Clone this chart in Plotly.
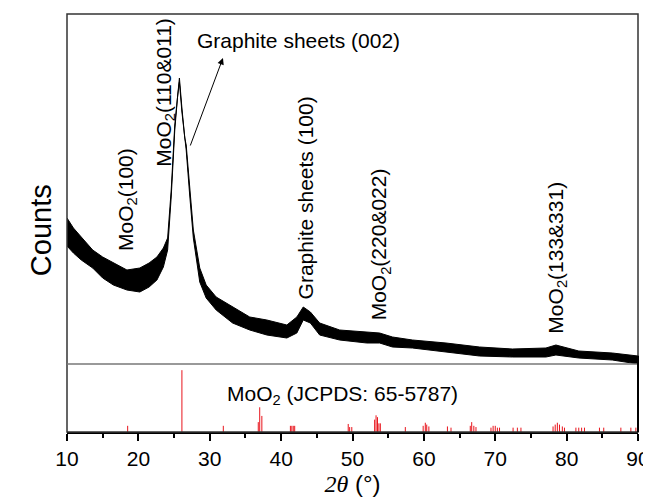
import plotly.graph_objects as go

# ---------------- data ----------------
# XRD pattern (noisy band): upper and lower envelope of the counts (a.u.)
two_theta = [10.0, 10.9, 12.0, 13.6, 15.0, 16.5, 18.4, 20.2, 21.5, 22.6, 23.5, 24.1,
             24.6, 25.1, 25.5, 25.75, 26.1, 26.5, 26.7, 27.2, 27.7, 28.6, 29.5, 30.9,
             33.2, 35.6, 38.0, 40.8, 42.2, 43.1, 44.1, 45.4, 48.2, 52.0, 53.8, 55.6,
             58.4, 63.1, 67.8, 72.4, 77.1, 78.5, 81.7, 86.4, 90.0]
counts_high = [146, 136, 127, 114, 107, 101, 94, 96, 101, 107, 116, 126,
               174, 239, 272, 286, 256, 226, 219, 174, 134, 96, 79, 67,
               57, 47, 44, 39, 47, 57, 52, 41, 34, 32, 31, 27,
               24, 21, 17, 15, 16, 19, 13, 11, 8]
counts_low = [118, 111, 104, 96, 86, 79, 74, 72, 77, 84, 97, 114,
              167, 234, 268, 282, 252, 222, 214, 168, 126, 82, 66, 54,
              41, 34, 29, 26, 31, 44, 41, 29, 24, 21, 21, 17,
              16, 12, 8, 7, 7, 9, 6, 4, 0]

# Reference pattern MoO2 (JCPDS 65-5787): positions and relative intensities
ref_two_theta = [18.5, 26.1, 31.9, 36.8, 37.0, 37.3, 41.3, 41.5, 41.7, 41.9,
                 49.4, 49.6, 49.9, 53.1, 53.3, 53.5, 53.7, 53.9, 57.4,
                 59.9, 60.2, 60.4, 60.7, 63.3, 63.8, 66.5, 66.7, 67.0, 67.3,
                 69.4, 69.7, 70.0, 70.3, 70.6, 72.5, 73.1, 73.6,
                 78.1, 78.4, 78.7, 79.0, 79.4, 79.7, 81.3, 81.7, 82.1, 82.5,
                 84.6, 85.2, 87.6, 89.0, 89.7]
ref_intensity = [10, 100, 10, 16, 40, 26, 10, 10, 10, 10,
                 13, 8, 8, 20, 27, 24, 14, 14, 8,
                 10, 15, 12, 9, 9, 7, 10, 16, 10, 8,
                 7, 10, 10, 7, 7, 7, 7, 7,
                 9, 12, 15, 12, 9, 7, 7, 7, 7, 7,
                 7, 7, 7, 7, 7]

x_ticks = [10, 20, 30, 40, 50, 60, 70, 80, 90]

peak_labels = ["MoO<sub>2</sub>(100)", "MoO<sub>2</sub>(110&011)", "Graphite sheets (100)",
               "MoO<sub>2</sub>(220&022)", "MoO<sub>2</sub>(133&331)"]
peak_label_x = [18.4, 23.7, 43.4, 53.9, 78.6]
peak_label_y = [165, 272, 166, 120, 106]

# ---------------- figure ----------------
FONT = "Liberation Sans, Arial, sans-serif"
split = 68 / 418

fig = go.Figure()

fig.add_trace(go.Scatter(x=two_theta, y=counts_low, mode="lines",
                         line=dict(color="black", width=1),
                         xaxis="x2", yaxis="y2", showlegend=False, hoverinfo="skip"))
fig.add_trace(go.Scatter(x=two_theta, y=counts_high, mode="lines", fill="tonexty",
                         fillcolor="black", line=dict(color="black", width=1),
                         xaxis="x2", yaxis="y2", showlegend=False, hoverinfo="skip"))

sx, sy = [], []
for t, v in zip(ref_two_theta, ref_intensity):
    sx += [t, t, None]
    sy += [0, v, None]
fig.add_trace(go.Scatter(x=sx, y=sy, mode="lines", line=dict(color="#e8141c", width=1),
                         xaxis="x", yaxis="y", showlegend=False, hoverinfo="skip"))

annotations = []
for txt, px, py in zip(peak_labels, peak_label_x, peak_label_y):
    annotations.append(dict(text=txt, x=px, y=py, xref="x2", yref="y2", textangle=-90,
                            showarrow=False, font=dict(family=FONT, size=21, color="black")))

annotations.append(dict(text="Graphite sheets (002)", x=27.9, y=324, xref="x2", yref="y2",
                        xanchor="left", showarrow=False,
                        font=dict(family=FONT, size=21, color="black")))
annotations.append(dict(text="", x=31.85, y=306, ax=27.2, ay=217, xref="x2", yref="y2",
                        axref="x2", ayref="y2", showarrow=True, arrowhead=2, arrowsize=1.3,
                        arrowwidth=1, arrowcolor="black", standoff=0, startstandoff=0))
annotations.append(dict(text="MoO<sub>2</sub> (JCPDS: 65-5787)", x=48.6, y=60, xref="x", yref="y",
                        showarrow=False, font=dict(family=FONT, size=21, color="black")))
annotations.append(dict(text="Counts", x=-0.077, y=0.483, xref="paper", yref="paper",
                        textangle=-90, showarrow=False,
                        font=dict(family=FONT, size=29, color="black")))

# the page places the figure 8 px from the window's top-left corner
fig.update_layout(
    template="none",
    width=643, height=494,
    margin=dict(l=59, r=13, t=6, b=70, autoexpand=False),
    paper_bgcolor="white", plot_bgcolor="white",
    font=dict(family=FONT, color="black"),
    xaxis=dict(domain=[0, 1], range=[10, 90], tickvals=x_ticks, ticks="outside",
               ticklen=7, tickwidth=1.5, tickcolor="black", showline=True, linewidth=2,
               linecolor="black", showgrid=False, zeroline=False, automargin=False,
               tickfont=dict(family=FONT, size=21, color="black"),
               minor=dict(dtick=5, tick0=10, ticks="outside", ticklen=4, tickwidth=1.5,
                          tickcolor="black", showgrid=False),
               title=dict(text='<span style="font-family:Liberation Serif"><i>2θ</i></span> (°)',
                          font=dict(family=FONT, size=24, color="black"), standoff=6),
               anchor="y"),
    yaxis=dict(domain=[0, split], range=[0, 110], showticklabels=False, ticks="",
               showgrid=False, zeroline=False, showline=False, automargin=False),
    xaxis2=dict(domain=[0, 1], range=[10, 90], matches="x", showticklabels=False, ticks="",
                showgrid=False, zeroline=False, showline=False, anchor="y2", automargin=False),
    yaxis2=dict(domain=[split, 1], range=[0, 350], showticklabels=False, ticks="",
                showgrid=False, zeroline=False, showline=False, automargin=False),
    annotations=annotations,
    shapes=[
        dict(type="rect", xref="paper", yref="paper", x0=0, x1=1, y0=0, y1=1,
             line=dict(color="#333333", width=1.5), layer="above"),
        dict(type="line", xref="paper", yref="paper", x0=0, x1=1, y0=split, y1=split,
             line=dict(color="#777777", width=1.5), layer="above"),
        dict(type="line", xref="paper", yref="paper", x0=1, x1=1, y0=0, y1=split + 0.02,
             line=dict(color="black", width=2), layer="above"),
    ],
)

fig.write_html("out.html")
